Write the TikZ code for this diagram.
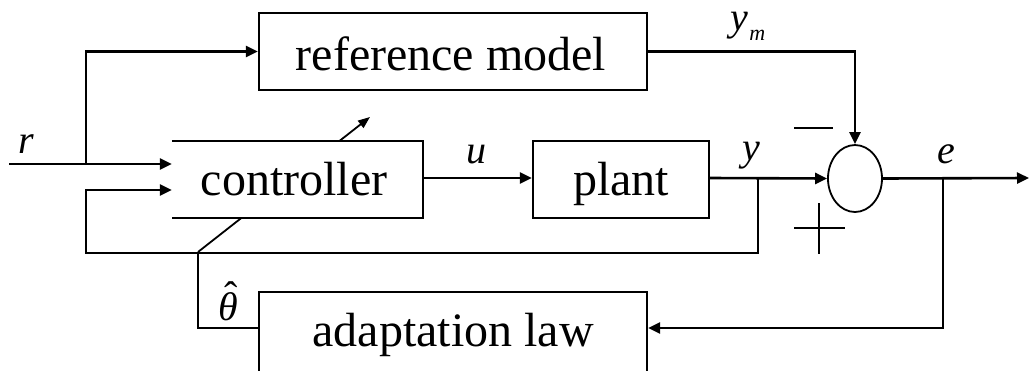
\documentclass[tikz,border=0pt]{standalone}
\usepackage{fontspec}
\setmainfont{Liberation Serif}
\usetikzlibrary{arrows.meta,shapes.geometric}
\tikzset{
  blk/.style={draw, line width=2.4pt, rectangle, inner sep=0pt, font=\fontsize{48}{50}\selectfont},
  sig/.style={line width=2.6pt, -{Triangle[length=12pt,width=11pt]}},
  wire/.style={line width=2.6pt},
  lbl/.style={anchor=base, inner sep=0pt, font=\fontsize{40}{42}\selectfont\itshape},
  sgn/.style={line width=1.6pt},
}
\begin{document}
\begin{tikzpicture}[x=1pt,y=-1pt]
\useasboundingbox (0,0) rectangle (1029,370);
\clip (0,0) rectangle (1029,370);

% blocks
\node[blk, minimum width=388pt, minimum height=77pt] (ref) at (453,51.5) {};
\node[anchor=base, inner sep=0pt, font=\fontsize{48}{50}\selectfont] (refT) at (451,70) {reference model};
\node[blk, minimum width=176pt, minimum height=77pt] (plant) at (621,179.5) {};
\node[anchor=base, inner sep=0pt, font=\fontsize{48}{50}\selectfont] (plantT) at (621,195) {plant};
\node[draw, ellipse, line width=1.8pt, minimum width=54pt, minimum height=67pt, inner sep=0pt] (sum) at (855,178.5) {};
\node[blk, minimum width=388pt, minimum height=110pt] (adapt) at (453,347) {};
\node[anchor=base, inner sep=0pt, font=\fontsize{48}{50}\selectfont] (adaptT) at (453,346) {adaptation law};

% free ends and branch points
\coordinate (rin) at (9,164);
\coordinate (rbr) at (86,164);
\coordinate (ytap) at (758,178);
\coordinate (etap) at (943,178);
\coordinate (eout) at (1029,178);
\coordinate (thc) at (198,252);
\coordinate (tip) at (370,117);

% adaptation output: the tuning arrow runs through the controller
\draw[wire] (adapt.west |- 0,328) -- (198,328) -- (thc);
\draw[line width=1.8pt, -{Triangle[length=12pt,width=9pt]}] (thc) -- (tip);

% controller: white block, open on its input side
\node[fill=white, minimum width=251pt, minimum height=77pt, inner sep=0pt] (ctrl) at (297.5,179.5) {};
\draw[line width=2pt] (ctrl.north west) -- (ctrl.north east) -- (ctrl.south east) -- (ctrl.south west);
\node[anchor=base, inner sep=0pt, font=\fontsize{48}{50}\selectfont] (ctrlT) at (294,195) {controller};

% signal paths
\draw[sig] (rin) -- (ctrl.west |- rin);
\draw[sig] (rbr) |- (ref.west);
\draw[sig] (ytap) -- (758,253) -- (86,253) |- (ctrl.west |- 0,190);
\draw[sig] (ctrl.east |- 0,178) -- (plant.west |- 0,178);
\draw[sig] (plant.east |- 0,178) -- (sum.west);
\draw[sig] (ref.east) -| (sum.north);
\draw[sig] (sum.east) -- (eout);
\draw[sig] (etap) |- (adapt.east |- 0,328);

% signs at the summing junction
\draw[sgn] (794,128) -- (833,128);
\draw[sgn] (794,228) -- (845,228);
\draw[sgn] (819,203) -- (819,254);

% signal labels
\node[lbl] (lr) at (26,153) {r};
\node[lbl] (lu) at (476,163) {u};
\node[lbl] (ly) at (751,160) {y};
\node[lbl] (le) at (946,163) {e};
\node[lbl] (lym) at (748,30) {y\kern1pt\raisebox{-10pt}{\fontsize{22}{24}\selectfont m}};
\node[lbl] (lth) at (228,320) {\makebox[0pt][l]{\raisebox{11pt}{\kern6pt\upshape ˆ}}θ};
\end{tikzpicture}
\end{document}
